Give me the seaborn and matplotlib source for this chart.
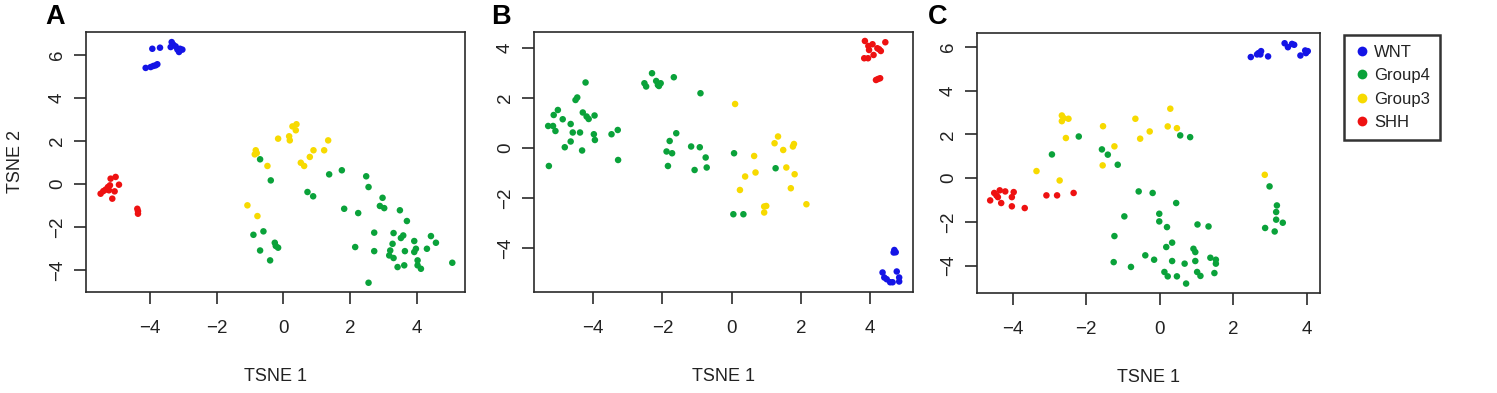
import pandas as pd
import seaborn as sns
import matplotlib.pyplot as plt

sns.set_style("white")
plt.rcParams['font.family'] = ['Liberation Sans', 'DejaVu Sans']

groups = ["WNT", "Group4", "Group3", "SHH"]
colors = {"WNT": "#1414E6", "Group4": "#0AA23A", "Group3": "#F7DA00", "SHH": "#EE1111"}

# ---- panel A ----
a_wnt_x = [-4.13, -3.98, -3.90, -3.83, -3.78, -3.93, -3.70, -3.35, -3.30, -3.38, -3.23, -3.18, -3.10, -3.13, -3.03]
a_wnt_y = [5.40, 5.44, 5.49, 5.52, 5.57, 6.29, 6.34, 6.60, 6.48, 6.37, 6.40, 6.26, 6.29, 6.14, 6.25]
a_shh_x = [-5.48, -5.40, -5.33, -5.26, -5.20, -5.18, -5.03, -4.93, -5.06, -5.13, -5.23, -4.38, -4.36, -4.36]
a_shh_y = [-0.45, -0.33, -0.26, -0.14, -0.06, 0.25, 0.33, -0.03, -0.34, -0.68, -0.29, -1.15, -1.26, -1.38]
a_g3_x = [-1.08, -0.78, -0.83, -0.80, -0.86, -0.48, -0.16, 0.17, 0.19, 0.27, 0.39, 0.37, 0.52, 0.62, 0.79, 0.90, 1.22, 1.34]
a_g3_y = [-0.99, -1.49, 1.57, 1.44, 1.38, 0.84, 2.11, 2.22, 2.03, 2.68, 2.78, 2.50, 0.99, 0.84, 1.26, 1.57, 1.57, 2.03]
a_g4_x = [-0.70, -0.38, -0.90, -0.60, -0.70, -0.40, -0.26, -0.23, -0.16, 0.72, 0.89, 1.37, 1.75, 1.82,
          2.15, 2.24, 2.48, 2.55, 2.55, 2.72, 2.72, 2.89, 2.97, 3.02, 3.20, 3.17, 3.30, 3.27, 3.30, 3.42,
          3.49, 3.52, 3.59, 3.64, 3.62, 3.70, 3.92, 3.92, 3.97, 4.02, 4.02, 4.12, 4.30, 4.42, 4.57, 5.06]
a_g4_y = [1.15, 0.17, -2.36, -2.20, -3.09, -3.55, -2.73, -2.88, -2.96, -0.37, -0.57, 0.45, 0.64, -1.15,
          -2.93, -1.35, 0.36, -0.14, -4.59, -2.26, -3.12, -1.02, -0.64, -1.12, -3.09, -3.32, -2.28, -2.78, -3.44, -3.86,
          -1.22, -2.51, -2.39, -3.12, -3.78, -1.72, -2.65, -3.16, -3.01, -3.55, -3.78, -3.94, -3.01, -2.42, -2.73, -3.66]

# ---- panel B ----
b_wnt_x = [4.70, 4.74, 4.68, 4.36, 4.41, 4.48, 4.58, 4.65, 4.77, 4.84, 4.84]
b_wnt_y = [-4.07, -4.16, -4.17, -4.97, -5.17, -5.24, -5.36, -5.36, -4.93, -5.17, -5.33]
b_shh_x = [3.85, 3.83, 3.94, 3.97, 3.95, 4.07, 4.10, 4.21, 4.31, 4.26, 4.44, 4.17, 4.23, 4.29]
b_shh_y = [4.29, 3.60, 3.60, 3.93, 4.09, 4.16, 3.73, 4.00, 3.89, 3.96, 4.24, 2.73, 2.77, 2.80]
b_g3_x = [0.10, 0.65, 0.69, 0.39, 0.24, 0.94, 1.00, 0.94, 1.24, 1.34, 1.49, 1.58, 1.77, 1.80, 1.82, 1.71, 2.16]
b_g3_y = [1.77, -0.31, -0.97, -1.13, -1.67, -2.33, -2.31, -2.57, 0.20, 0.47, -0.07, -0.77, 0.07, 0.17, -1.04, -1.60, -2.24]
b_g4_x = [-5.28, -5.30, -5.16, -5.14, -5.09, -5.02, -4.88, -4.82, -4.65, -4.65, -4.59, -4.51, -4.46, -4.38,
          -4.32, -4.30, -4.22, -4.19, -4.13, -3.96, -3.98, -3.95, -3.47, -3.29, -3.28, -2.52, -2.47, -2.30,
          -2.18, -2.13, -2.05, -2.10, -1.67, -1.88, -1.79, -1.84, -1.72, -1.60, -1.17, -0.92, -1.07, -0.90,
          -0.75, -0.72, 0.07, 0.05, 0.34, 1.27]
b_g4_y = [-0.71, 0.89, 0.89, 1.33, 0.69, 1.53, 1.16, 0.04, 0.97, 0.27, 0.63, 1.93, 2.03, 0.63,
          -0.09, 1.43, 2.63, 1.27, 1.17, 1.31, 0.56, 0.33, 0.56, 0.73, -0.47, 2.60, 2.47, 3.00,
          2.69, 2.53, 2.60, 2.49, 2.84, -0.13, 0.29, -0.71, -0.20, 0.60, 0.07, 0.04, -0.87, 2.20,
          -0.37, -0.77, -0.20, -2.64, -2.64, -0.80]

# ---- panel C ----
c_wnt_x = [2.48, 2.65, 2.69, 2.76, 2.74, 2.95, 3.40, 3.49, 3.60, 3.66, 3.83, 3.96, 4.03, 3.98]
c_wnt_y = [5.53, 5.65, 5.71, 5.80, 5.65, 5.56, 6.16, 5.98, 6.13, 6.09, 5.60, 5.83, 5.80, 5.71]
c_shh_x = [-4.61, -4.50, -4.44, -4.40, -4.35, -4.31, -4.20, -4.02, -3.97, -4.02, -3.67, -3.08, -2.79, -2.34]
c_shh_y = [-1.02, -0.68, -0.79, -0.87, -0.56, -1.14, -0.61, -0.87, -0.64, -1.29, -1.37, -0.79, -0.79, -0.68]
c_g3_x = [-3.35, -2.72, -2.66, -2.66, -2.61, -2.48, -2.55, -1.54, -1.55, -1.23, -0.66, -0.53, -0.27, 0.22, 0.29, 0.47, 2.86]
c_g3_y = [0.32, -0.11, 2.86, 2.60, 2.74, 2.71, 1.83, 2.37, 0.58, 1.45, 2.71, 1.80, 2.13, 2.36, 3.17, 2.28, 0.15]
c_g4_x = [-2.20, -2.93, -1.57, -1.41, -1.14, -0.57, -0.19, -0.96, -1.23, -1.25, -0.78, -0.39, -0.15, -0.01,
          -0.01, 0.20, 0.18, 0.34, 0.13, 0.22, 0.34, 0.47, 0.45, 0.68, 0.72, 0.56, 0.83, 0.92, 0.97, 0.97,
          1.03, 1.02, 1.11, 1.33, 1.38, 1.49, 1.53, 1.53, 2.99, 3.19, 3.17, 3.17, 2.87, 3.13, 3.35]
c_g4_y = [1.90, 1.08, 1.31, 1.07, 0.61, -0.61, -0.68, -1.75, -2.65, -3.84, -4.06, -3.53, -3.73, -1.63,
          -1.98, -2.24, -3.15, -2.95, -4.29, -4.49, -3.79, -4.49, -1.14, -3.91, -4.82, 1.95, 1.87, -3.23, -3.38, -3.79,
          -2.12, -4.29, -4.47, -2.21, -3.64, -4.34, -3.73, -3.91, -0.38, -1.25, -1.55, -1.90, -2.28, -2.44, -2.04]


def make_df(wnt, g4, g3, shh):
    parts = []
    for name, (xs, ys) in zip(groups, [wnt, g4, g3, shh]):
        parts.append(pd.DataFrame({"x": xs, "y": ys, "group": name}))
    return pd.concat(parts, ignore_index=True)


panels = [
    ("A", make_df((a_wnt_x, a_wnt_y), (a_g4_x, a_g4_y), (a_g3_x, a_g3_y), (a_shh_x, a_shh_y)),
     [0.0574, 0.257, 0.2532, 0.6616], (-5.92, 5.44), (-5.02, 7.07), [-4, -2, 0, 2, 4], [-4, -2, 0, 2, 4, 6], 45),
    ("B", make_df((b_wnt_x, b_wnt_y), (b_g4_x, b_g4_y), (b_g3_x, b_g3_y), (b_shh_x, b_shh_y)),
     [0.3567, 0.257, 0.2532, 0.6616], (-5.71, 5.24), (-5.75, 4.65), [-4, -2, 0, 2, 4], [-4, -2, 0, 2, 4], 491),
    ("C", make_df((c_wnt_x, c_wnt_y), (c_g4_x, c_g4_y), (c_g3_x, c_g3_y), (c_shh_x, c_shh_y)),
     [0.6526, 0.2545, 0.2291, 0.6616], (-4.97, 4.36), (-5.25, 6.63), [-4, -2, 0, 2, 4], [-4, -2, 0, 2, 4, 6], 928),
]

fig = plt.figure(figsize=(14.97, 3.93), dpi=100)
txt = "#222222"

for letter, df, pos, xlim, ylim, xt, yt, lx in panels:
    ax = fig.add_axes(pos)
    sns.scatterplot(data=df, x="x", y="y", hue="group", hue_order=groups, palette=colors,
                    s=22, linewidth=0, ax=ax, legend=(letter == "C"))
    ax.set_xlim(*xlim)
    ax.set_ylim(*ylim)
    ax.set_xticks(xt)
    ax.set_yticks(yt)
    ax.set_xticklabels([str(v).replace("-", "\u2212") for v in xt])
    ax.set_yticklabels([str(v).replace("-", "\u2212") for v in yt])
    for sp in ax.spines.values():
        sp.set_color("#2a2a2a")
        sp.set_linewidth(1.2)
    ax.tick_params(axis="both", direction="out", length=8.5, width=1.2, color="#2a2a2a",
                   labelsize=13.5, labelcolor=txt, left=True, bottom=True)
    ax.tick_params(axis="x", pad=12)
    ax.tick_params(axis="y", pad=6)
    for lab in ax.get_yticklabels():
        lab.set_rotation(90)
        lab.set_va("center")
    ax.set_xlabel("TSNE 1", fontsize=13, color=txt, labelpad=22)
    if letter == "A":
        ax.set_ylabel("TSNE 2", fontsize=13, color=txt, labelpad=18)
    else:
        ax.set_ylabel("")
    fig.text(lx / 1497, 1 - 24 / 393, letter, fontsize=19.5, fontweight="bold", color="black",
             ha="left", va="baseline")
    if letter == "C":
        handles, labels = ax.get_legend_handles_labels()
        leg = ax.legend(handles, labels, loc="upper left", bbox_to_anchor=(1344 / 1497, 1 - 35 / 393),
                        bbox_transform=fig.transFigure, fontsize=12, markerscale=1.5, frameon=True,
                        fancybox=False, edgecolor="black", handletextpad=0.3, labelspacing=0.5,
                        borderpad=0.6, handlelength=0.9, borderaxespad=0, labelcolor=txt)
        leg.get_frame().set_linewidth(1.8)

fig.savefig("out.png", dpi=100)
